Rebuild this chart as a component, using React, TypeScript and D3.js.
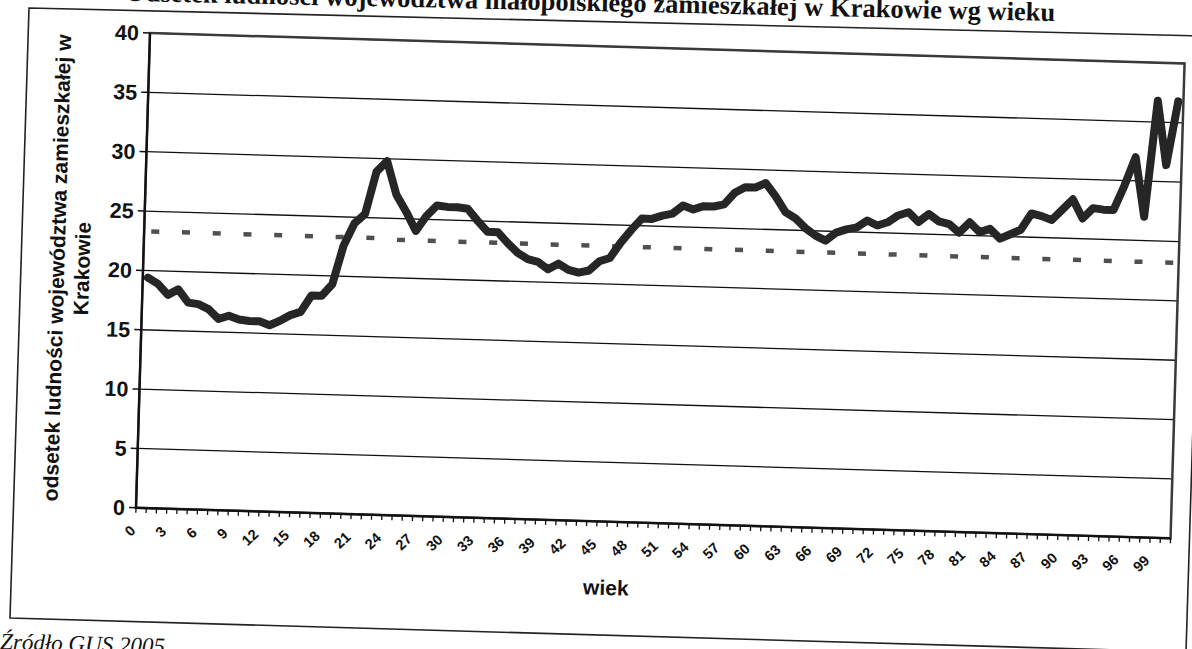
import React from 'react';
import * as d3 from 'd3';

// categories: age 0..100
const AGES: number[] = d3.range(0, 101);
const X_TICK_LABELS = ['0','3','6','9','12','15','18','21','24','27','30','33','36','39','42','45','48','51','54','57','60','63','66','69','72','75','78','81','84','87','90','93','96','99'];
const Y_TICKS = [0, 5, 10, 15, 20, 25, 30, 35, 40];

// share of the voivodeship's population living in Kraków, by age
const SHARE = [
  19.4, 18.9, 18.0, 18.5, 17.4, 17.3, 16.9, 16.1, 16.4, 16.1,
  16.0, 16.0, 15.7, 16.1, 16.6, 16.9, 18.3, 18.3, 19.3, 22.6,
  24.5, 25.3, 28.9, 29.8, 27.0, 25.6, 24.0, 25.3, 26.2, 26.1,
  26.1, 26.0, 25.0, 24.1, 24.1, 23.2, 22.4, 21.9, 21.7, 21.1,
  21.6, 21.1, 20.9, 21.1, 21.9, 22.2, 23.5, 24.6, 25.6, 25.6,
  25.9, 26.1, 26.8, 26.5, 26.8, 26.8, 27.0, 28.0, 28.5, 28.5,
  28.9, 27.8, 26.5, 26.0, 25.2, 24.6, 24.2, 24.9, 25.2, 25.4,
  26.0, 25.6, 25.9, 26.5, 26.8, 26.0, 26.7, 26.1, 25.9, 25.2,
  26.1, 25.3, 25.6, 24.8, 25.2, 25.6, 27.0, 26.8, 26.5, 27.4,
  28.3, 26.7, 27.6, 27.5, 27.5, 29.6, 32.0, 27.0, 36.8, 31.4,
  36.8,
];

// overall share (dotted reference line)
const AVERAGE = [
  23.3, 23.3, 23.3, 23.3, 23.3, 23.3, 23.3, 23.3, 23.3, 23.3,
  23.3, 23.3, 23.3, 23.3, 23.3, 23.3, 23.3, 23.3, 23.3, 23.3,
  23.3, 23.3, 23.3, 23.2, 23.2, 23.2, 23.2, 23.2, 23.2, 23.2,
  23.2, 23.2, 23.2, 23.2, 23.2, 23.2, 23.2, 23.2, 23.2, 23.2,
  23.2, 23.2, 23.2, 23.2, 23.2, 23.2, 23.2, 23.2, 23.2, 23.2,
  23.2, 23.2, 23.2, 23.2, 23.2, 23.2, 23.2, 23.2, 23.2, 23.2,
  23.2, 23.2, 23.2, 23.2, 23.2, 23.2, 23.2, 23.2, 23.2, 23.2,
  23.2, 23.2, 23.2, 23.2, 23.2, 23.2, 23.2, 23.2, 23.2, 23.2,
  23.2, 23.2, 23.2, 23.2, 23.2, 23.2, 23.2, 23.2, 23.2, 23.2,
  23.2, 23.2, 23.2, 23.2, 23.2, 23.2, 23.2, 23.2, 23.2, 23.2,
  23.2,
];

const TITLE = 'Odsetek ludności województwa małopolskiego zamieszkałej w Krakowie wg wieku';
const Y_TITLE_LINES = ['odsetek ludności województwa zamieszkałej w', 'Krakowie'];
const X_TITLE = 'wiek';
const SOURCE = 'Źródło GUS 2005';

export default function App() {
  const W = 1035, H = 475, ML = 150, MT = 33, ROT = 1.69;
  const x = d3.scaleBand<number>().domain(AGES).range([0, W]);
  const bw = x.bandwidth();
  const cx = (a: number) => (x(a) as number) + bw / 2;
  const y = d3.scaleLinear().domain([0, 40]).range([H, 0]);
  const line = d3.line<number>().x((_, i) => cx(AGES[i])).y((d) => y(d));
  const sans = "'Liberation Sans', Arial, sans-serif";
  const serif = "'Liberation Serif', 'Times New Roman', serif";
  const period = bw * 3;
  const frame = 'M29,8 L1205,36 L1186,652 L10,618 Z';

  return (
    <svg width={1192} height={649} style={{ position: 'fixed', left: 0, top: 0, display: 'block', background: '#fff' }}>
      <rect width={1192} height={649} fill="#fff" />
      <path d={frame} fill="none" stroke="#222" strokeWidth={1.6} />
      <text transform="translate(1055,21) rotate(1.24)" textAnchor="end" fontFamily={serif} fontWeight="bold" fontSize={26.5} fill="#111">{TITLE}</text>
      <text transform="translate(0,649) rotate(1.7)" fontFamily={serif} fontStyle="italic" fontSize={23} fill="#111">{SOURCE}</text>
      <g transform={`rotate(${ROT} ${ML} ${MT})`}>
        <g transform={`translate(${ML},${MT})`}>
          {Y_TICKS.map((t) => (
            <line key={'g' + t} x1={0} x2={W} y1={y(t)} y2={y(t)} stroke="#111" strokeWidth={1.3} />
          ))}
          <rect x={0} y={0} width={W} height={H} fill="none" stroke="#3a3a3a" strokeWidth={2.5} />
          <path d={line(AVERAGE) || ''} fill="none" stroke="#505050" strokeWidth={4.5}
            strokeDasharray={`0 2 8 ${period - 10}`} strokeLinecap="butt" />
          <path d={line(SHARE) || ''} fill="none" stroke="#262626" strokeWidth={8}
            strokeLinejoin="round" strokeLinecap="round" />
          <line x1={0} x2={0} y1={0} y2={H} stroke="#111" strokeWidth={2.2} />
          <line x1={0} x2={W} y1={H} y2={H} stroke="#111" strokeWidth={2.2} />
          {Y_TICKS.map((t) => (
            <g key={'yt' + t}>
              <line x1={-7} x2={0} y1={y(t)} y2={y(t)} stroke="#111" strokeWidth={1.5} />
              <text x={-11} y={y(t)} dy="0.36em" textAnchor="end" fontFamily={sans} fontWeight="bold" fontSize={21.5} fill="#111">{t}</text>
            </g>
          ))}
          {AGES.concat([AGES.length]).map((a) => (
            <line key={'xt' + a} x1={a * bw} x2={a * bw} y1={H} y2={H + 5} stroke="#111" strokeWidth={1.3} />
          ))}
          {X_TICK_LABELS.map((l) => {
            const ax = cx(+l) - 4, ay = H + 24;
            return (
              <text key={'xl' + l} transform={`translate(${ax},${ay}) rotate(-45)`} textAnchor="end" fontFamily={sans} fontWeight="bold" fontSize={14.5} fill="#111">{l}</text>
            );
          })}
          {Y_TITLE_LINES.map((s, i) => (
            <text key={'yl' + i} transform={`translate(${-86 + i * 25},${H / 2}) rotate(-90)`} dy="0.35em" textAnchor="middle" fontFamily={sans} fontWeight="bold" fontSize={21} fill="#111">{s}</text>
          ))}
          <text x={472} y={H + 66} dy="0.35em" textAnchor="middle" fontFamily={sans} fontWeight="bold" fontSize={21} fill="#111">{X_TITLE}</text>
        </g>
      </g>
    </svg>
  );
}
